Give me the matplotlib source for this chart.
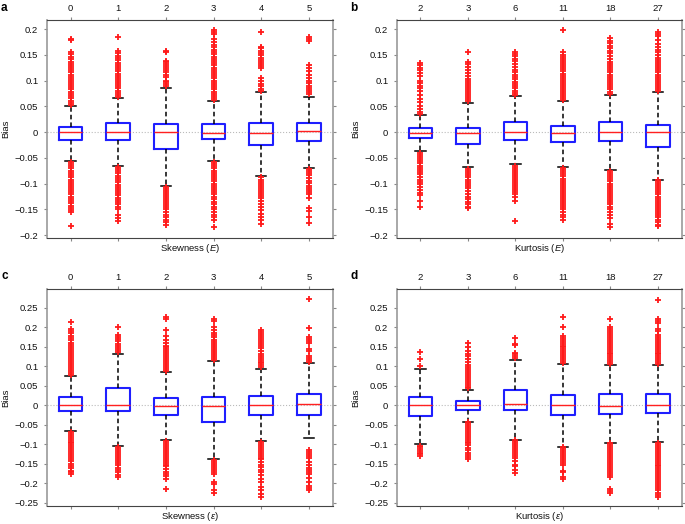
import matplotlib.pyplot as plt
import matplotlib.ticker as mticker
import numpy as np

plt.rcParams['font.family'] = ['Liberation Sans', 'DejaVu Sans']
plt.rcParams['mathtext.fontset'] = 'custom'
plt.rcParams['mathtext.it'] = 'Liberation Sans:italic'
plt.rcParams['mathtext.rm'] = 'Liberation Sans'

# ---- datos ----
skew_labels = ['0', '1', '2', '3', '4', '5']
kurt_labels = ['2', '3', '6', '11', '18', '27']

# panel a : Skewness (E)
a_med = [0.0, 0.0, -0.0005, -0.001, -0.002, 0.003]
a_q1 = [-0.016, -0.0155, -0.032, -0.014, -0.0245, -0.0174]
a_q3 = [0.0103, 0.0174, 0.015, 0.0155, 0.0174, 0.0187]
a_lo = [-0.056, -0.065, -0.104, -0.056, -0.086, -0.07]
a_hi = [0.051, 0.066, 0.085, 0.0606, 0.0774, 0.069]
a_out_hi = [
    [0.053, 0.057, 0.061, 0.066, 0.07, 0.074, 0.078, 0.083, 0.087, 0.091, 0.095, 0.1, 0.104, 0.108, 0.112,
     0.117, 0.121, 0.125, 0.129, 0.133, 0.137, 0.142, 0.147, 0.151, 0.155, 0.179, 0.181],
    [0.068, 0.072, 0.076, 0.08, 0.085, 0.089, 0.093, 0.097, 0.102, 0.106, 0.11, 0.114, 0.119, 0.123, 0.127,
     0.131, 0.135, 0.14, 0.144, 0.148, 0.153, 0.157, 0.185],
    [0.089, 0.093, 0.097, 0.1, 0.108, 0.112, 0.116, 0.12, 0.124, 0.128, 0.132, 0.136, 0.139, 0.155, 0.157],
    [0.063, 0.067, 0.071, 0.075, 0.079, 0.084, 0.088, 0.092, 0.096, 0.1, 0.105, 0.109, 0.113, 0.117, 0.121,
     0.125, 0.13, 0.134, 0.138, 0.142, 0.147, 0.151, 0.155, 0.16, 0.165, 0.17, 0.176, 0.182, 0.19, 0.195, 0.198],
    [0.08, 0.084, 0.089, 0.093, 0.1, 0.105, 0.124, 0.128, 0.132, 0.136, 0.14, 0.145, 0.15, 0.154, 0.158,
     0.163, 0.166, 0.195],
    [0.074, 0.078, 0.082, 0.086, 0.09, 0.095, 0.1, 0.105, 0.112, 0.118, 0.125, 0.131, 0.177, 0.181, 0.185],
]
a_out_lo = [
    [-0.058, -0.062, -0.066, -0.07, -0.075, -0.079, -0.083, -0.087, -0.092, -0.096, -0.1, -0.104, -0.109,
     -0.113, -0.117, -0.121, -0.126, -0.13, -0.134, -0.138, -0.143, -0.147, -0.151, -0.155, -0.182],
    [-0.068, -0.072, -0.076, -0.08, -0.085, -0.089, -0.093, -0.097, -0.102, -0.106, -0.11, -0.114, -0.119,
     -0.123, -0.127, -0.131, -0.136, -0.14, -0.146, -0.15, -0.16, -0.166, -0.172],
    [-0.106, -0.11, -0.114, -0.118, -0.122, -0.126, -0.13, -0.134, -0.138, -0.142, -0.146, -0.15, -0.155,
     -0.16, -0.165, -0.17, -0.175, -0.18],
    [-0.058, -0.062, -0.066, -0.07, -0.075, -0.079, -0.083, -0.087, -0.091, -0.095, -0.1, -0.104, -0.108,
     -0.112, -0.117, -0.121, -0.125, -0.13, -0.136, -0.14, -0.145, -0.15, -0.155, -0.16, -0.165, -0.17, -0.185],
    [-0.088, -0.092, -0.096, -0.1, -0.104, -0.108, -0.112, -0.116, -0.12, -0.124, -0.128, -0.133, -0.14,
     -0.145, -0.152, -0.158, -0.165, -0.17, -0.178],
    [-0.072, -0.076, -0.08, -0.084, -0.089, -0.094, -0.099, -0.104, -0.108, -0.112, -0.116, -0.12, -0.127,
     -0.147, -0.153, -0.165, -0.177],
]

# panel b : Kurtosis (E)
b_med = [-0.001, -0.0006, 0.0, -0.001, 0.0, 0.0]
b_q1 = [-0.011, -0.0226, -0.016, -0.02, -0.018, -0.028]
b_q3 = [0.0077, 0.009, 0.0205, 0.012, 0.019, 0.014]
b_lo = [-0.037, -0.068, -0.062, -0.068, -0.074, -0.092]
b_hi = [0.033, 0.056, 0.0703, 0.061, 0.073, 0.078]
b_out_hi = [
    [0.036, 0.04, 0.045, 0.05, 0.058, 0.065, 0.072, 0.08, 0.085, 0.09, 0.095, 0.1, 0.11, 0.115, 0.12, 0.125,
     0.13, 0.135],
    [0.06, 0.064, 0.068, 0.072, 0.076, 0.08, 0.084, 0.088, 0.092, 0.096, 0.1, 0.104, 0.11, 0.115, 0.12, 0.127,
     0.132, 0.137, 0.155],
    [0.073, 0.077, 0.081, 0.085, 0.09, 0.094, 0.098, 0.103, 0.108, 0.112, 0.116, 0.12, 0.126, 0.132, 0.138,
     0.143, 0.148, 0.152, 0.155],
    [0.062, 0.066, 0.07, 0.074, 0.078, 0.082, 0.086, 0.09, 0.094, 0.098, 0.102, 0.106, 0.11, 0.114, 0.118,
     0.122, 0.126, 0.13, 0.134, 0.138, 0.142, 0.146, 0.15, 0.155, 0.198],
    [0.075, 0.079, 0.083, 0.087, 0.091, 0.095, 0.1, 0.104, 0.108, 0.112, 0.116, 0.12, 0.124, 0.128, 0.132,
     0.136, 0.142, 0.148, 0.153, 0.158, 0.163, 0.168, 0.173, 0.178, 0.183],
    [0.08, 0.084, 0.088, 0.092, 0.096, 0.1, 0.104, 0.108, 0.112, 0.116, 0.12, 0.124, 0.128, 0.132, 0.136, 0.14,
     0.145, 0.15, 0.155, 0.16, 0.165, 0.172, 0.18, 0.186, 0.19, 0.195],
]
b_out_lo = [
    [-0.04, -0.044, -0.048, -0.052, -0.056, -0.06, -0.065, -0.07, -0.074, -0.078, -0.082, -0.087, -0.092,
     -0.097, -0.1, -0.106, -0.112, -0.118, -0.122, -0.134, -0.145],
    [-0.072, -0.076, -0.08, -0.084, -0.088, -0.092, -0.096, -0.1, -0.104, -0.108, -0.115, -0.12, -0.125, -0.13,
     -0.135, -0.14, -0.145, -0.148],
    [-0.065, -0.069, -0.073, -0.077, -0.081, -0.085, -0.089, -0.093, -0.097, -0.101, -0.105, -0.109, -0.113,
     -0.117, -0.121, -0.126, -0.134, -0.172],
    [-0.07, -0.074, -0.078, -0.082, -0.086, -0.09, -0.094, -0.098, -0.102, -0.106, -0.11, -0.114, -0.118,
     -0.122, -0.126, -0.13, -0.134, -0.138, -0.142, -0.146, -0.15, -0.155, -0.16, -0.165, -0.17],
    [-0.075, -0.079, -0.083, -0.087, -0.091, -0.095, -0.1, -0.104, -0.108, -0.112, -0.116, -0.12, -0.124,
     -0.128, -0.132, -0.136, -0.14, -0.145, -0.15, -0.155, -0.16, -0.167, -0.178, -0.185],
    [-0.093, -0.097, -0.101, -0.105, -0.109, -0.113, -0.117, -0.121, -0.125, -0.129, -0.133, -0.137, -0.141,
     -0.145, -0.149, -0.153, -0.157, -0.161, -0.165, -0.17, -0.175, -0.18, -0.183],
]

# panel c : Skewness (epsilon)
c_med = [0.001, 0.0, -0.002, -0.001, 0.001, 0.003]
c_q1 = [-0.0137, -0.016, -0.0256, -0.0427, -0.024, -0.024]
c_q3 = [0.022, 0.045, 0.019, 0.0213, 0.023, 0.03]
c_lo = [-0.065, -0.104, -0.09, -0.137, -0.091, -0.083]
c_hi = [0.074, 0.132, 0.0845, 0.114, 0.094, 0.107]
c_out_hi = [
    [0.078, 0.083, 0.088, 0.093, 0.098, 0.103, 0.108, 0.113, 0.118, 0.123, 0.128, 0.133, 0.138, 0.143, 0.148,
     0.154, 0.16, 0.166, 0.172, 0.178, 0.184, 0.19, 0.195, 0.212],
    [0.136, 0.141, 0.146, 0.151, 0.158, 0.165, 0.17, 0.175, 0.18, 0.2],
    [0.088, 0.093, 0.098, 0.103, 0.108, 0.113, 0.118, 0.123, 0.128, 0.133, 0.138, 0.143, 0.148, 0.153, 0.16,
     0.168, 0.178, 0.192, 0.22, 0.225],
    [0.117, 0.122, 0.127, 0.132, 0.137, 0.142, 0.147, 0.152, 0.157, 0.162, 0.167, 0.174, 0.18, 0.186, 0.193,
     0.2, 0.215, 0.22],
    [0.097, 0.102, 0.107, 0.112, 0.117, 0.122, 0.127, 0.132, 0.14, 0.146, 0.153, 0.158, 0.163, 0.168, 0.173,
     0.178, 0.183, 0.188, 0.192],
    [0.11, 0.115, 0.12, 0.126, 0.14, 0.145, 0.16, 0.165, 0.17, 0.175, 0.197, 0.271],
]
c_out_lo = [
    [-0.068, -0.073, -0.078, -0.083, -0.088, -0.093, -0.098, -0.103, -0.108, -0.113, -0.118, -0.123, -0.128,
     -0.133, -0.138, -0.144, -0.15, -0.156, -0.162, -0.168, -0.172, -0.175],
    [-0.107, -0.112, -0.117, -0.122, -0.127, -0.132, -0.137, -0.142, -0.148, -0.153, -0.16, -0.167, -0.172,
     -0.18, -0.185],
    [-0.092, -0.097, -0.102, -0.107, -0.112, -0.117, -0.122, -0.127, -0.132, -0.137, -0.142, -0.147, -0.152,
     -0.157, -0.163, -0.17, -0.176, -0.182, -0.19, -0.215],
    [-0.14, -0.145, -0.15, -0.155, -0.16, -0.165, -0.17, -0.175, -0.198, -0.203, -0.218, -0.225],
    [-0.094, -0.099, -0.104, -0.109, -0.114, -0.119, -0.124, -0.129, -0.134, -0.139, -0.145, -0.152, -0.158,
     -0.165, -0.172, -0.18, -0.19, -0.198, -0.21, -0.218, -0.228, -0.235],
    [-0.115, -0.12, -0.125, -0.13, -0.136, -0.146, -0.152, -0.162, -0.166, -0.17, -0.175, -0.186, -0.196,
     -0.206, -0.211, -0.216],
]

# panel d : Kurtosis (epsilon)
d_med = [0.001, 0.0, 0.002, 0.0, -0.001, 0.001]
d_q1 = [-0.028, -0.011, -0.013, -0.026, -0.022, -0.021]
d_q3 = [0.021, 0.01, 0.04, 0.026, 0.028, 0.028]
d_lo = [-0.1, -0.042, -0.088, -0.106, -0.096, -0.094]
d_hi = [0.093, 0.04, 0.117, 0.106, 0.102, 0.102]
d_out_hi = [
    [0.1, 0.118, 0.136],
    [0.043, 0.047, 0.052, 0.057, 0.062, 0.067, 0.072, 0.077, 0.082, 0.087, 0.092, 0.097, 0.103, 0.11, 0.118,
     0.125, 0.132, 0.14, 0.15, 0.16],
    [0.12, 0.125, 0.13, 0.135, 0.154, 0.157, 0.173],
    [0.108, 0.113, 0.118, 0.123, 0.128, 0.133, 0.138, 0.143, 0.148, 0.153, 0.158, 0.163, 0.168, 0.173, 0.178,
     0.2, 0.225],
    [0.105, 0.11, 0.115, 0.12, 0.125, 0.13, 0.135, 0.14, 0.145, 0.15, 0.155, 0.16, 0.165, 0.17, 0.175, 0.18,
     0.185, 0.19, 0.195, 0.2, 0.222],
    [0.105, 0.11, 0.115, 0.12, 0.125, 0.13, 0.135, 0.14, 0.145, 0.15, 0.155, 0.16, 0.165, 0.17, 0.175, 0.18,
     0.19, 0.196, 0.21, 0.215, 0.22, 0.27],
]
d_out_lo = [
    [-0.104, -0.108, -0.112, -0.117, -0.122, -0.126, -0.13],
    [-0.044, -0.048, -0.053, -0.058, -0.063, -0.068, -0.073, -0.078, -0.083, -0.088, -0.093, -0.098, -0.103,
     -0.11, -0.115, -0.122, -0.128, -0.133, -0.138],
    [-0.09, -0.095, -0.1, -0.105, -0.11, -0.115, -0.12, -0.125, -0.13, -0.135, -0.142, -0.152, -0.156, -0.166,
     -0.173],
    [-0.108, -0.113, -0.118, -0.123, -0.128, -0.133, -0.138, -0.143, -0.148, -0.153, -0.168, -0.172, -0.185,
     -0.19],
    [-0.098, -0.103, -0.108, -0.113, -0.118, -0.123, -0.128, -0.133, -0.138, -0.143, -0.148, -0.153, -0.158,
     -0.163, -0.168, -0.173, -0.178, -0.183, -0.215, -0.22, -0.225],
    [-0.097, -0.102, -0.107, -0.112, -0.117, -0.122, -0.127, -0.132, -0.137, -0.142, -0.147, -0.152, -0.157,
     -0.162, -0.167, -0.172, -0.177, -0.182, -0.187, -0.192, -0.197, -0.202, -0.207, -0.212, -0.218, -0.224,
     -0.229, -0.235],
]


def fmt_bias(v, pos):
    if abs(v) < 1e-9:
        return '0'
    s = '%g' % round(v, 3)
    return s.replace('-', '\u2212')


def panel(rect, letter, letter_xy, labels, med, q1, q3, lo, hi, out_hi, out_lo, ylim, yticks, xlabel):
    ax = fig.add_axes(rect)
    stats = []
    for i in range(len(labels)):
        stats.append({'med': med[i], 'q1': q1[i], 'q3': q3[i], 'whislo': lo[i], 'whishi': hi[i],
                      'fliers': np.array(out_hi[i] + out_lo[i])})
    pos = np.arange(1, len(labels) + 1)
    ax.axhline(0, color='#bbbbbb', lw=0.8, ls=':', zorder=0)
    ax.bxp(stats, positions=pos, widths=0.5, capwidths=0.22, showfliers=True,
           boxprops=dict(color='#1f1fff', lw=1.5),
           medianprops=dict(color='#ff2020', lw=1.0),
           whiskerprops=dict(color='black', lw=1.1, ls=(0, (3, 2))),
           capprops=dict(color='black', lw=1.1),
           flierprops=dict(marker='+', markeredgecolor='#ff1a1a', markersize=4.5, markeredgewidth=1.3,
                           linestyle='none'))
    ax.set_xlim(0.5, len(labels) + 0.5)
    ax.set_ylim(*ylim)
    ax.set_xticks(pos)
    ax.set_xticklabels(labels)
    ax.set_yticks(yticks)
    ax.yaxis.set_major_formatter(mticker.FuncFormatter(fmt_bias))
    ax.tick_params(axis='x', top=True, bottom=True, labeltop=True, labelbottom=False,
                   direction='out', length=2.5, width=0.8, pad=2.5, color='#888888', labelsize=6.8,
                   labelcolor='#111111')
    ax.tick_params(axis='y', left=True, right=True, direction='out', length=2.5, width=0.8, pad=3.5,
                   color='#888888', labelsize=6.8, labelcolor='#111111')
    for s in ['left', 'right']:
        ax.spines[s].set_color('#9a9a9a')
        ax.spines[s].set_linewidth(1.2)
    for s in ['top', 'bottom']:
        ax.spines[s].set_color('#444444')
        ax.spines[s].set_linewidth(0.8)
    ax.set_ylabel('Bias', fontsize=6.8, color='#111111', labelpad=3)
    ax.set_xlabel(xlabel, fontsize=6.8, color='#111111', labelpad=0.3)
    fig.text(letter_xy[0] / 685, 1 - letter_xy[1] / 524, letter, fontsize=8.5, fontweight='bold',
             ha='left', va='center')
    return ax


fig = plt.figure(figsize=(6.85, 5.24), dpi=100)

ticks_ab = np.arange(-0.2, 0.2001, 0.05)
ticks_cd = np.arange(-0.25, 0.2501, 0.05)
W, H = 685.0, 524.0
rect_a = [46.7 / W, 1 - 237.7 / H, (332.7 - 46.7) / W, (237.7 - 20) / H]
rect_b = [396.7 / W, 1 - 237.7 / H, (681.7 - 396.7) / W, (237.7 - 20) / H]
rect_c = [46.7 / W, 1 - 506.3 / H, (332.7 - 46.7) / W, (506.3 - 289.3) / H]
rect_d = [396.7 / W, 1 - 506.3 / H, (681.7 - 396.7) / W, (506.3 - 289.3) / H]

panel(rect_a, 'a', (1, 8), skew_labels, a_med, a_q1, a_q3, a_lo, a_hi, a_out_hi, a_out_lo,
      (-0.205, 0.218), ticks_ab, 'Skewness ($\\it{E}$)')
panel(rect_b, 'b', (350, 8), kurt_labels, b_med, b_q1, b_q3, b_lo, b_hi, b_out_hi, b_out_lo,
      (-0.205, 0.218), ticks_ab, 'Kurtosis ($\\it{E}$)')
panel(rect_c, 'c', (1, 276), skew_labels, c_med, c_q1, c_q3, c_lo, c_hi, c_out_hi, c_out_lo,
      (-0.259, 0.297), ticks_cd, 'Skewness ($\\varepsilon$)')
panel(rect_d, 'd', (350, 276), kurt_labels, d_med, d_q1, d_q3, d_lo, d_hi, d_out_hi, d_out_lo,
      (-0.259, 0.297), ticks_cd, 'Kurtosis ($\\varepsilon$)')

fig.savefig('out.png', dpi=100)
